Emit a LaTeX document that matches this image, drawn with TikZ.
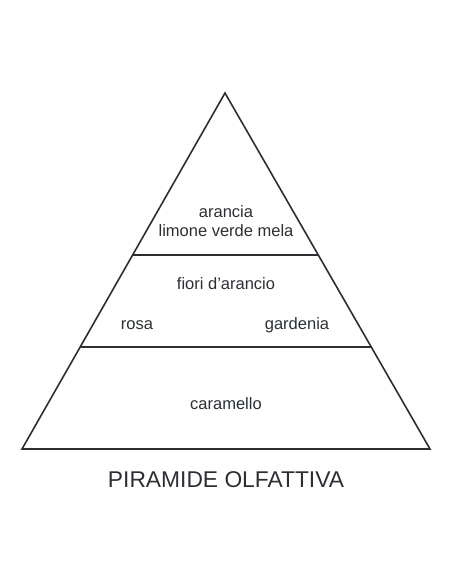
\documentclass[tikz,border=0pt]{standalone}
\usepackage{fontspec}
\setmainfont{Liberation Sans}
\begin{document}
\begin{tikzpicture}[x=1pt,y=-1pt,
  edge/.style={draw=ink,line width=1.6pt,line join=miter},
  lbl/.style={text=ink,font=\fontsize{16.5}{20}\selectfont,inner sep=0pt,anchor=base},
  ttl/.style={text=ink,font=\fontsize{22.8}{26}\selectfont,inner sep=0pt,anchor=base}]
\definecolor{ink}{HTML}{2B2F33}
\useasboundingbox (0,0) rectangle (452,584);
\coordinate (apex) at (225,93);
\coordinate (bl) at (22,449);
\coordinate (br) at (430,449);
\coordinate (ul) at (132.6,255);
\coordinate (ur) at (318.3,255);
\coordinate (ll) at (80.2,347);
\coordinate (lr) at (371.4,347);
\draw[edge] (apex) -- (br) -- (bl) -- cycle;
\draw[edge] (ul) -- (ur);
\draw[edge] (ll) -- (lr);
\node[lbl] (t1) at (226,217) {arancia};
\node[lbl] (t2) at (226,236) {limone verde mela};
\node[lbl] (t3) at (226,289) {fiori d’arancio};
\node[lbl] (t4) at (137,329) {rosa};
\node[lbl] (t5) at (297,329) {gardenia};
\node[lbl] (t6) at (226,409) {caramello};
\node[ttl] (title) at (226,487) {PIRAMIDE OLFATTIVA};
\end{tikzpicture}
\end{document}
